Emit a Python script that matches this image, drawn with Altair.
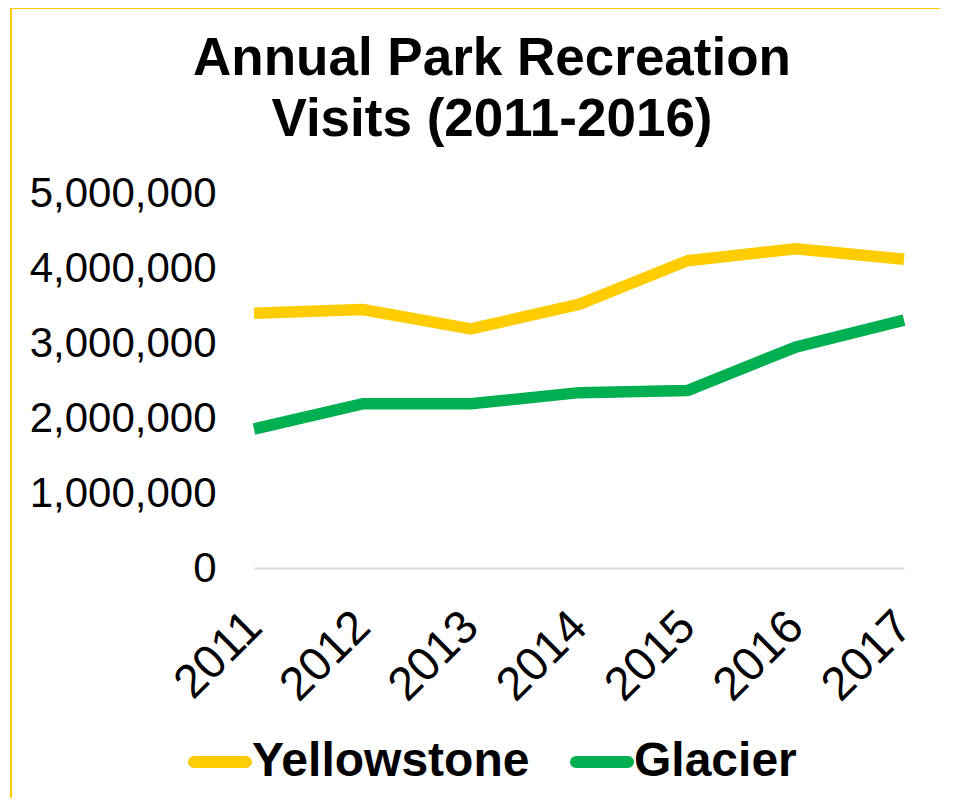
import altair as alt
import pandas as pd

years = ["2011", "2012", "2013", "2014", "2015", "2016", "2017"]
yellowstone = [3395000, 3447000, 3188000, 3514000, 4097000, 4257000, 4117000]
glacier = [1853000, 2189000, 2190000, 2338000, 2366000, 2946000, 3305000]
series_names = ["Yellowstone", "Glacier"]
series_colors = ["#FFCC00", "#00B050"]
y_ticks = [0, 1000000, 2000000, 3000000, 4000000, 5000000]

rows = []
for name, vals in zip(series_names, [yellowstone, glacier]):
    for yr, v in zip(years, vals):
        rows.append({"Year": yr, "Visits": v, "Park": name})
df = pd.DataFrame(rows)

FONT = "Liberation Sans"
CAPSULE = ("M-0.8966,-0.1034L0.8966,-0.1034A0.1034,0.1034 0 0 1 0.8966,0.1034"
           "L-0.8966,0.1034A0.1034,0.1034 0 0 1 -0.8966,-0.1034Z")

lines = alt.Chart(df).mark_line(strokeWidth=11.5, strokeJoin="round", strokeCap="butt").encode(
    x=alt.X("Year:O", sort=years,
            scale=alt.Scale(type="point", padding=0),
            axis=alt.Axis(title=None, labelAngle=-45, labelAlign="right", labelBaseline="middle",
                          labelFontSize=47, labelFont=FONT, labelColor="#000000",
                          labelPadding=51, ticks=False, domainColor="#D9D9D9", domainWidth=2,
                          grid=False, labelLimit=0)),
    y=alt.Y("Visits:Q", scale=alt.Scale(domain=[0, 5000000], nice=False),
            axis=alt.Axis(title=None, values=y_ticks, format=",d", labelFontSize=42,
                          labelFont=FONT, labelColor="#000000", labelPadding=38,
                          ticks=False, domain=False, grid=False, labelLimit=0)),
    color=alt.Color("Park:N", scale=alt.Scale(domain=series_names, range=series_colors),
                    legend=alt.Legend(title=None, orient="none", direction="horizontal",
                                      legendX=-66, legendY=537, padding=0,
                                      labelFont=FONT, labelFontSize=48, labelFontWeight="bold",
                                      labelColor="#000000", labelLimit=0, labelOffset=0,
                                      symbolType=CAPSULE, symbolSize=3364, symbolStrokeWidth=6,
                                      columnPadding=31)),
)

border_data = alt.Data(values=[{"k": 1}])
left_border = alt.Chart(border_data).mark_rule(color="#FFCC00", strokeWidth=2).encode(
    x=alt.value(-243), y=alt.value(-185), y2=alt.value(700))
top_border = alt.Chart(border_data).mark_rule(color="#FFCC00", strokeWidth=2).encode(
    x=alt.value(-244), x2=alt.value(720), y=alt.value(-185))

chart = alt.layer(left_border, top_border, lines).properties(
    width=650, height=375,
    padding={"left": 246, "top": 185, "right": 36, "bottom": 230},
    autosize=alt.AutoSizeParams(type="none"),
    title=alt.TitleParams(["Annual Park Recreation", "Visits (2011-2016)"],
                          font=FONT, fontSize=53, fontWeight="bold", color="#000000",
                          lineHeight=61, anchor="middle", dx=-87, offset=20, dy=213,
                          baseline="bottom"),
).configure_view(stroke=None)

chart.save("out.html", embed_options={"renderer": "svg", "actions": False})
